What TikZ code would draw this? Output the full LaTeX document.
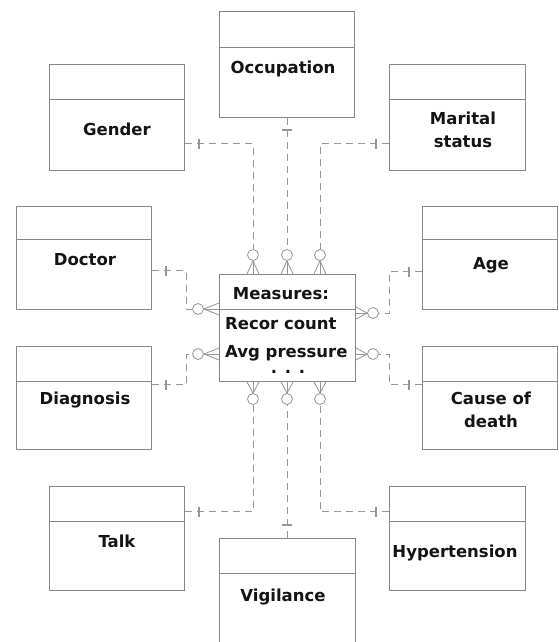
\documentclass[tikz,border=0pt]{standalone}
\usepackage{fontspec}
\setmainfont{DejaVu Sans}
\usetikzlibrary{calc}
\definecolor{boxc}{RGB}{135,135,135}
\definecolor{connc}{RGB}{150,150,150}
\definecolor{txtc}{RGB}{20,20,20}
\begin{document}
\begin{tikzpicture}[x=1pt,y=-1pt,
  ent/.style={draw=boxc, fill=white, line width=1pt, minimum width=135pt, minimum height=106pt, inner sep=0pt, anchor=north west},
  divl/.style={draw=boxc, line width=1pt},
  lbl/.style={font=\fontsize{16.5}{19}\selectfont\bfseries, text=txtc, inner sep=0pt, anchor=base},
  conn/.style={draw=connc, line width=0.9pt, dash pattern=on 7pt off 5pt},
  crow/.style={draw=connc, line width=0.8pt},
  tk/.style={draw=connc, line width=1.3pt},
  circ/.style={circle, draw=connc, fill=white, line width=0.8pt, minimum size=11pt, inner sep=0pt}]
\useasboundingbox[fill=white] (0,0) rectangle (558,642);
% entity boxes
\node[ent] (occ) at (219,11) {};
\node[ent] (gen) at (49,64) {};
\node[ent, minimum width=136pt] (mar) at (389,64) {};
\node[ent, minimum height=103pt] (doc) at (16,206) {};
\node[ent, minimum height=103pt] (diag) at (16,346) {};
\node[ent, minimum height=103pt] (age) at (422,206) {};
\node[ent, minimum height=103pt] (cause) at (422,346) {};
\node[ent, minimum height=104pt] (talk) at (49,486) {};
\node[ent, minimum width=136pt, minimum height=104pt] (hyp) at (389,486) {};
\node[ent, minimum width=136pt] (vig) at (219,538) {};
\node[ent, minimum width=136pt, minimum height=107pt] (meas) at (219,274) {};
\foreach \n/\o in {occ/37,gen/35,mar/35,doc/33,diag/35,age/33,cause/35,talk/35,hyp/35,vig/35,meas/35}
  \draw[divl] ([yshift=-\o pt]\n.north west) -- ([yshift=-\o pt]\n.north east);
% labels
\node[lbl] (tocc) at (283,74) {Occupation};
\node[lbl] (tgen) at (117,135) {Gender};
\node[lbl] (tmar1) at (463,124) {Marital};
\node[lbl] (tmar2) at (463,147) {status};
\node[lbl] (tdoc) at (85,265) {Doctor};
\node[lbl] (tdiag) at (85,404) {Diagnosis};
\node[lbl] (tage) at (491,269) {Age};
\node[lbl] (tcause1) at (491,404) {Cause of};
\node[lbl] (tcause2) at (491,427) {death};
\node[lbl] (ttalk) at (117,547) {Talk};
\node[lbl] (tvig) at (283,601) {Vigilance};
\node[lbl] (thyp) at (455,557) {Hypertension};
\node[lbl] (tmeas) at (281,299) {Measures:};
\node[lbl, anchor=base west] (tm1) at (225,329) {Recor count};
\node[lbl, anchor=base west] (tm2) at (225,357) {Avg pressure};
\node[lbl] (tm3) at (288,373) {. . .};
% circles (positions)
\coordinate (ct1p) at (253,255);
\coordinate (ct2p) at (287,255);
\coordinate (ct3p) at (320,255);
\coordinate (cb1p) at (253,399);
\coordinate (cb2p) at (287,399);
\coordinate (cb3p) at (320,399);
\coordinate (cl1p) at (198,309);
\coordinate (cl2p) at (198,354);
\coordinate (cr1p) at (373,313);
\coordinate (cr2p) at (373,354);
\foreach \c in {ct1,ct2,ct3,cb1,cb2,cb3,cl1,cl2,cr1,cr2}
  \node[circ] (\c) at (\c p) {};
% connector start points
\coordinate (pg) at ([yshift=-26pt]gen.east);
\coordinate (pm) at ([yshift=-26pt]mar.west);
\coordinate (pd) at ([yshift=-12.5pt]doc.east);
\coordinate (pa) at ([yshift=-13.5pt]age.west);
\coordinate (pdg) at ([yshift=13.5pt]diag.east);
\coordinate (pc) at ([yshift=13.5pt]cause.west);
\coordinate (pt) at ([yshift=27pt]talk.east);
\coordinate (ph) at ([yshift=27pt]hyp.west);
\coordinate (po) at (occ.south -| ct2);
\coordinate (pv) at (vig.north -| cb2);
% dashed connectors
\draw[conn] (pg) -| (ct1.north);
\draw[conn] (po) -- (ct2.north);
\draw[conn] (pm) -| (ct3.north);
\draw[conn] (pd) -- ++(34,0) |- (cl1.west);
\draw[conn] (pdg) -- ++(34,0) |- (cl2.west);
\draw[conn] (pa) -- ++(-33,0) |- (cr1.east);
\draw[conn] (pc) -- ++(-33,0) |- (cr2.east);
\draw[conn] (pt) -| (cb1.south);
\draw[conn] (pv) -- (cb2.south);
\draw[conn] (ph) -| (cb3.south);
% one-ticks
\foreach \p in {pg,pd,pdg,pt}
  \draw[tk] ($(\p)+(14,-5)$) -- ($(\p)+(14,5)$);
\foreach \p in {pm,pa,pc,ph}
  \draw[tk] ($(\p)+(-13,-5)$) -- ($(\p)+(-13,5)$);
\draw[tk] ($(po)+(-5,12)$) -- ($(po)+(5,12)$);
\draw[tk] ($(pv)+(-5,-13)$) -- ($(pv)+(5,-13)$);
% crow's feet
\foreach \c in {ct1,ct2,ct3}
  \foreach \d in {-6,0,6}
    \draw[crow] (\c.south) -- ($(\c.south |- meas.north)+(\d,0)$);
\foreach \c in {cb1,cb2,cb3}
  \foreach \d in {-6,0,6}
    \draw[crow] (\c.north) -- ($(\c.north |- meas.south)+(\d,0)$);
\foreach \c in {cl1,cl2}
  \foreach \d in {-6,0,6}
    \draw[crow] (\c.east) -- ($(\c.east -| meas.west)+(0,\d)$);
\foreach \c in {cr1,cr2}
  \foreach \d in {-6,0,6}
    \draw[crow] (\c.west) -- ($(\c.west -| meas.east)+(0,\d)$);
\end{tikzpicture}
\end{document}
